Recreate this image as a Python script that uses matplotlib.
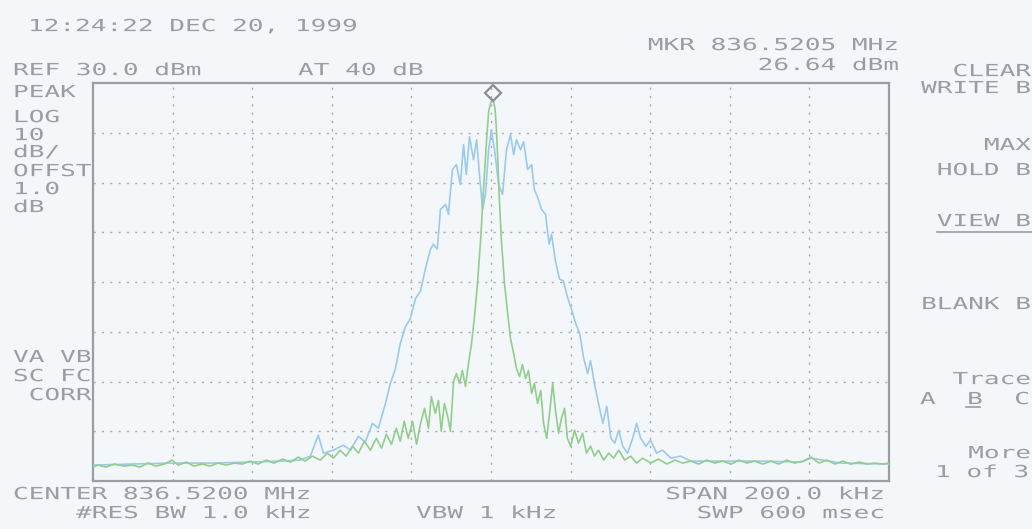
import matplotlib
matplotlib.use("Agg")
import matplotlib.pyplot as plt
from matplotlib.patheffects import AbstractPathEffect
from matplotlib.transforms import Affine2D, offset_copy
from matplotlib.lines import Line2D

# ---------------- data ----------------
center_mhz = 836.5200
span_khz = 200.0
ref_dbm = 30.0
db_per_div = 10.0
n_vdiv = 8
mkr_khz = 0.5          # 836.5205 MHz - 836.5200 MHz
mkr_dbm = 26.64

# Trace B (max hold, blue) : offset from centre (kHz), level (dBm)
blue_khz = [-100, -90.7, -80.6, -70.6, -60.5, -53, -47.9, -45.4, -43.4, -42.1,
            -39.6, -37.1, -35.3, -33.3, -31.6, -29.8, -28.3, -26.5, -25.3, -24,
            -22.8, -21.5, -20.3, -19, -17.7, -16.5, -15.2, -14.5, -13.5, -12.7,
            -11.4, -10.7, -9.7, -8.7, -7.7, -6.9, -6.2, -5.4, -4.4, -3.6,
            -2.9, -2.1, -1.4, -0.6, 0.1, 0.9, 1.9, 2.9, 3.9, 4.9,
            5.7, 6.4, 7.4, 8.2, 9.2, 10.2, 10.9, 11.9, 12.7, 13.7,
            14.6, 15.2, 16.2, 17.2, 18.2, 19.2, 20.2, 21.3, 22.3, 23.3,
            24.3, 25, 26, 27, 28.1, 29.1, 30.1, 31.1, 32.1, 33.1,
            34.3, 35.6, 36.6, 37.6, 38.9, 40.1, 41.6, 43.1, 45.2, 47.7,
            50.2, 57.7, 67.8, 77.9, 80.4, 87.9, 100]
blue_dbm = [-46.8, -46.6, -46.4, -46.4, -46.2, -46, -45.8, -45, -40.8, -44.4,
            -43.8, -42.8, -43.8, -41, -42.2, -38.4, -39.4, -34.4, -30.4, -27.4,
            -22.4, -19, -17.4, -13.4, -11.8, -7.4, -3.4, -2.4, -3.4, 4.6,
            5.6, 3.6, 12.6, 13.6, 9.6, 17.6, 11.6, 19.2, 14.6, 18.6,
            11.6, 4.6, 7.6, 16.6, 20.6, 16.6, 9.6, 7.6, 16.6, 19.6,
            15.6, 18.6, 16.6, 18.2, 12.6, 13.6, 8.6, 6.6, 4.6, 3.6,
            -2.4, -0.4, -5.8, -9.4, -9.8, -13, -15.4, -18.4, -20.4, -25.4,
            -28.4, -25.8, -30.4, -34.4, -38.4, -35, -41.4, -42.4, -39.8, -43,
            -44.4, -41.4, -38.4, -41.4, -43, -41.8, -44.4, -43.8, -45.4, -45,
            -46, -46, -46, -46.2, -45.4, -46.4, -46.6]

# Trace A (clear write, green)
green_khz = [-100, -98.7, -96.7, -94.7, -92.2, -90.2, -88.2, -86.2, -84.2, -82.1,
             -80.1, -78.6, -76.6, -74.6, -72.6, -70.6, -68.6, -66.5, -64.5, -62.5,
             -60.5, -58.5, -56.5, -54.5, -52.4, -50.4, -48.4, -46.7, -44.9, -42.9,
             -41.1, -39.6, -37.9, -36.4, -34.8, -33.3, -31.8, -30.3, -28.8, -27.5,
             -26.3, -25.0, -23.8, -22.8, -21.8, -20.8, -19.7, -18.7, -17.7, -16.7,
             -15.7, -15.0, -14.0, -13.2, -12.5, -11.7, -10.9, -10.2, -9.4, -8.7,
             -7.9, -7.2, -6.4, -5.7, -4.9, -4.2, -3.4, -2.6, -1.9, -1.1,
             -0.6, -0.1, 0.5, 1.0, 1.3, 1.7, 2.1, 2.6, 3.4, 4.2,
             4.9, 5.7, 6.4, 7.2, 7.9, 8.7, 9.4, 10.2, 10.9, 11.7,
             12.5, 13.2, 14.0, 14.7, 15.5, 16.2, 17.0, 17.7, 18.5, 19.2,
             20.0, 21.0, 22.0, 23.0, 24.0, 25.0, 26.0, 27.0, 28.3, 29.6,
             30.8, 32.1, 33.6, 35.1, 36.6, 38.1, 40.1, 42.1, 44.2, 46.2,
             48.2, 50.2, 52.2, 54.2, 56.2, 58.2, 60.3, 62.3, 64.3, 66.3,
             68.3, 70.3, 72.3, 74.3, 76.3, 78.4, 80.4, 82.4, 84.4, 86.4,
             88.4, 90.4, 92.5, 94.5, 96.5, 98.5, 100]
green_dbm = [-47.2, -46.8, -47.2, -46.6, -47, -46.8, -47.2, -46.4, -47, -46.6,
             -45.8, -46.8, -46.2, -47, -46.6, -47, -46.4, -46.8, -46.4, -46.6,
             -46, -46.6, -45.8, -46.4, -45.6, -46.2, -45.2, -46, -45, -45.8,
             -44.4, -45.4, -43.8, -45, -43, -44.4, -42, -43.8, -41.4, -43.4,
             -40.6, -42.6, -39.4, -42, -38, -41.4, -38, -42.6, -38.4, -35.4,
             -39.4, -33, -36.4, -33.8, -40, -34.4, -37, -40, -30, -28.4,
             -30.4, -27.8, -31, -26.6, -22.4, -17.4, -10.4, -1.4, 8.6, 18.6,
             24.2, 26.0, 26.64, 25.0, 21.6, 14.6, 6.6, -1.4, -10.4, -16.4,
             -21.4, -24.4, -27.4, -29, -26.6, -29.4, -27.8, -32.4, -30.4, -34.4,
             -31.8, -38.4, -41.4, -36.4, -30.4, -35.8, -40.4, -37.4, -35.4, -41.4,
             -43, -39.8, -42.4, -40.4, -44.4, -43, -45, -43.8, -45.8, -44.4,
             -45.4, -43.8, -45.8, -45, -46.4, -45.4, -46.4, -45.6, -46.6, -45.8,
             -46.4, -46, -46.6, -45.8, -46.4, -46, -46.6, -45.8, -46.4, -46,
             -46.6, -46, -46.6, -45.8, -46.4, -46, -45.2, -46.4, -45.8, -46.6,
             -46, -46.6, -46.2, -46.6, -46.4, -46.6, -46.4]

# annotation texts
header_texts = ["12:24:22 DEC 20, 1999", "REF 30.0 dBm", "AT 40 dB",
                "MKR 836.5205 MHz", "26.64 dBm"]
left_texts = ["PEAK", "LOG", "10", "dB/", "OFFST", "1.0", "dB"]
left_low_texts = ["VA VB", "SC FC", " CORR"]
footer_texts = ["CENTER 836.5200 MHz", "#RES BW 1.0 kHz", "VBW 1 kHz",
                "SPAN 200.0 kHz", "SWP 600 msec"]
menu_texts = ["CLEAR", "WRITE B", "MAX", "HOLD B", "VIEW B", "BLANK B",
              "Trace", "A  B  C", "More", "1 of 3"]

# ---------------- style ----------------
W, H = 1032, 529
BG = "#f3f7fa"
TXT = "#9a9ea2"
GRID = "#abafb3"
BLUE = "#9ccaeb"
GREEN = "#93cd8e"

PITCH = 15.7          # px per character of the instrument font
FS = 12.0
char_w = 0.602 * FS * 100 / 72
SX = PITCH / char_w
CAP = 12.2


class HStretch(AbstractPathEffect):
    """Stretch the glyphs horizontally about the text origin."""
    def __init__(self, sx):
        super().__init__()
        self.sx = sx

    def draw_path(self, renderer, gc, tpath, affine, rgbFace=None):
        renderer.draw_path(gc, tpath, Affine2D().scale(self.sx, 1.0) + affine, rgbFace)


fig = plt.figure(figsize=(W / 100, H / 100), dpi=100, facecolor=BG)


def label(s, x_px=None, cy_px=0, right=None):
    if right is not None:
        x_px = right - len(s) * PITCH
    fig.text((x_px - 2) / W, 1 - (cy_px + CAP / 2) / H, s, ha="left", va="baseline",
             fontsize=FS, family="DejaVu Sans Mono", color=TXT,
             path_effects=[HStretch(SX)])


L, R, T, B = 93, 889, 83, 481
ax = fig.add_axes([L / W, 1 - B / H, (R - L) / W, (B - T) / H])
ax.set_facecolor(BG)
half = span_khz / 2
ax.set_xlim(-half, half)
ax.set_ylim(ref_dbm - n_vdiv * db_per_div, ref_dbm)
ax.set_xticks([-half + i * span_khz / 10 for i in range(1, 10)])
ax.set_yticks([ref_dbm - i * db_per_div for i in range(1, n_vdiv)])
ax.tick_params(length=0, labelbottom=False, labelleft=False)
ax.grid(True, color=GRID, linestyle=(0, (1.6, 4.4)), linewidth=1.0)
for sp in ax.spines.values():
    sp.set_color("#9a9ea2")
    sp.set_linewidth(1.6)

ax.plot(blue_khz, blue_dbm, color=BLUE, lw=1.2, zorder=3)
ax.plot(green_khz, green_dbm, color=GREEN, lw=1.2, zorder=4)

trans = offset_copy(ax.transData, fig=fig, x=0, y=7, units="dots")
ax.plot([mkr_khz], [mkr_dbm], marker="D", ms=8, mfc="none", mec="#8a8e92",
        mew=1.6, transform=trans, clip_on=False, zorder=5)

# header
label(header_texts[0], 30, 25)
label(header_texts[1], 15, 69)
label(header_texts[2], 300, 69)
label(header_texts[3], right=901, cy_px=44)
label(header_texts[4], right=901, cy_px=64)

# left column
for s, cy in zip(left_texts, [91, 116, 134, 151, 170, 188, 206]):
    label(s, 15, cy)
for s, cy in zip(left_low_texts, [356, 375, 394]):
    label(s, 15, cy)

# footer
label(footer_texts[0], 15, 493)
label(footer_texts[1], 78, 512)
label(footer_texts[2], 418, 512)
label(footer_texts[3], right=887, cy_px=493)
label(footer_texts[4], right=887, cy_px=512)

# softkey menu
RIGHT_EDGE = 1033
for s, cy in zip(menu_texts[:6], [70, 87, 144, 169, 220, 303]):
    label(s, right=RIGHT_EDGE, cy_px=cy)
label(menu_texts[6], right=RIGHT_EDGE, cy_px=378)
label(menu_texts[7], 922, 398)
label(menu_texts[8], right=RIGHT_EDGE, cy_px=452)
label(menu_texts[9], 937, 471)

# underlines
fig.add_artist(Line2D([937 / W, 1032 / W], [1 - 232 / H] * 2, color=TXT, lw=1.2))
fig.add_artist(Line2D([966 / W, 980 / W], [1 - 407 / H] * 2, color=TXT, lw=1.2))

fig.savefig("out.png", dpi=100, facecolor=BG)
